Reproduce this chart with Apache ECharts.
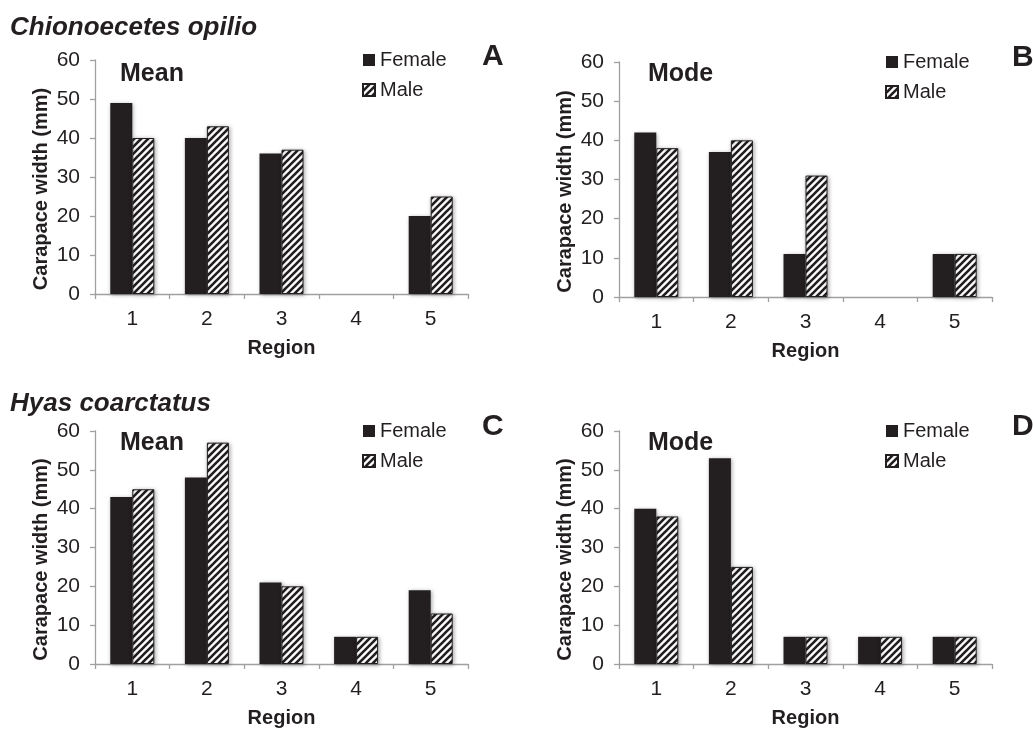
<!DOCTYPE html>
<html>
<head>
<meta charset="utf-8">
<script src="https://cdn.jsdelivr.net/npm/echarts@6/dist/echarts.min.js"></script>
<style>
html,body{margin:0;padding:0;background:#fff;}
#chart{width:1033px;height:729px;}
</style>
</head>
<body>
<div id="chart"></div>
<script>
// ---- data ----
const regions = ['1', '2', '3', '4', '5'];
const yMin = 0, yMax = 60, yStep = 10;
const seriesNames = ['Female', 'Male'];
const speciesTitles = ['Chionoecetes opilio', 'Hyas coarctatus'];
const panelLetters = ['A', 'B', 'C', 'D'];
const panelStats = ['Mean', 'Mode', 'Mean', 'Mode'];

const opilioMeanFemale = [49, 40, 36, null, 20];
const opilioMeanMale   = [40, 43, 37, null, 25];
const opilioModeFemale = [42, 37, 11, null, 11];
const opilioModeMale   = [38, 40, 31, null, 11];
const hyasMeanFemale   = [43, 48, 21, 7, 19];
const hyasMeanMale     = [45, 57, 20, 7, 13];
const hyasModeFemale   = [40, 53, 7, 7, 7];
const hyasModeMale     = [38, 25, 7, 7, 7];

const panelData = [
  [opilioMeanFemale, opilioMeanMale],
  [opilioModeFemale, opilioModeMale],
  [hyasMeanFemale, hyasMeanMale],
  [hyasModeFemale, hyasModeMale]
];

// ---- styling / layout ----
const FONT = "'Liberation Sans', Arial, Helvetica, sans-serif";
const INK = '#231f20';
const AXIS = '#a0a0a0';

const grids = [
  {left: 95, top: 60, width: 373, height: 234},
  {left: 619, top: 62, width: 373, height: 235},
  {left: 95, top: 431, width: 373, height: 235},
  {left: 619, top: 431, width: 373, height: 235}
];
const legendPos = [
  {left: 362, top: 50},
  {left: 885, top: 52},
  {left: 362, top: 421},
  {left: 885, top: 421}
];
const statPos = [
  {left: 120, top: 62},
  {left: 648, top: 62},
  {left: 120, top: 431},
  {left: 648, top: 431}
];
const letterPos = [
  {left: 482, top: 42},
  {left: 1012, top: 43},
  {left: 482, top: 412},
  {left: 1012, top: 412}
];

// hatch pattern
function makeHatch() {
  const s = 7;
  const c = document.createElement('canvas');
  c.width = s; c.height = s;
  const g = c.getContext('2d');
  g.fillStyle = '#ffffff';
  g.fillRect(0, 0, s, s);
  g.strokeStyle = INK;
  g.lineWidth = 2.6;
  g.beginPath();
  g.moveTo(-1, s + 1); g.lineTo(s + 1, -1);
  g.moveTo(-2, 2); g.lineTo(2, -2);
  g.moveTo(s - 2, s + 2); g.lineTo(s + 2, s - 2);
  g.stroke();
  return c;
}
const hatch = {image: makeHatch(), repeat: 'repeat'};

const chart = echarts.init(document.getElementById('chart'), null, {renderer: 'canvas'});

const option = {
  animation: false,
  backgroundColor: '#ffffff',
  textStyle: {fontFamily: FONT},
  grid: grids.map(g => Object.assign({containLabel: false}, g)),
  title: [],
  legend: [],
  xAxis: [],
  yAxis: [],
  series: []
};

// species titles
option.title.push({
  text: speciesTitles[0], left: 10, top: 15, padding: 0,
  textStyle: {fontFamily: FONT, fontSize: 26, fontWeight: 'bold', fontStyle: 'italic', color: INK}
});
option.title.push({
  text: speciesTitles[1], left: 10, top: 391, padding: 0,
  textStyle: {fontFamily: FONT, fontSize: 26, fontWeight: 'bold', fontStyle: 'italic', color: INK}
});

for (let i = 0; i < 4; i++) {
  option.title.push({
    text: panelStats[i], left: statPos[i].left, top: statPos[i].top, padding: 0,
    textStyle: {fontFamily: FONT, fontSize: 25, fontWeight: 'bold', color: INK}
  });
  option.title.push({
    text: panelLetters[i], left: letterPos[i].left, top: letterPos[i].top, padding: 0,
    textStyle: {fontFamily: FONT, fontSize: 30, fontWeight: 'bold', color: INK}
  });
  option.legend.push({
    data: seriesNames,
    orient: 'vertical',
    left: legendPos[i].left, top: legendPos[i].top,
    padding: 0,
    itemWidth: 12, itemHeight: 12, itemGap: 10,
    icon: 'rect',
    selectedMode: false,
    textStyle: {fontFamily: FONT, fontSize: 20, color: INK}
  });
  option.xAxis.push({
    type: 'category', gridIndex: i, data: regions,
    boundaryGap: true,
    name: 'Region', nameLocation: 'middle', nameGap: 44,
    nameTextStyle: {fontFamily: FONT, fontSize: 20, fontWeight: 'bold', color: INK},
    axisLine: {show: true, lineStyle: {color: AXIS, width: 1.3}},
    axisTick: {show: true, alignWithLabel: false, length: 5, lineStyle: {color: AXIS, width: 1.3}},
    axisLabel: {fontFamily: FONT, fontSize: 21, color: INK, margin: 15},
    splitLine: {show: false}
  });
  option.yAxis.push({
    type: 'value', gridIndex: i, min: yMin, max: yMax, interval: yStep,
    name: 'Carapace width (mm)', nameLocation: 'middle', nameGap: 44,
    nameTextStyle: {fontFamily: FONT, fontSize: 20, fontWeight: 'bold', color: INK, padding: [0, 24, 0, 0]},
    axisLine: {show: true, lineStyle: {color: AXIS, width: 1.3}},
    axisTick: {show: true, length: 5, lineStyle: {color: AXIS, width: 1.3}},
    axisLabel: {fontFamily: FONT, fontSize: 21, color: INK, margin: 15},
    splitLine: {show: false}
  });
  const [fem, mal] = panelData[i];
  option.series.push({
    type: 'bar', name: seriesNames[0], xAxisIndex: i, yAxisIndex: i,
    data: fem, barWidth: 22, barGap: '0%',
    itemStyle: {color: INK, borderColor: INK, borderWidth: 0,
      shadowColor: 'rgba(0,0,0,0.35)', shadowBlur: 4, shadowOffsetX: 1, shadowOffsetY: 1}
  });
  option.series.push({
    type: 'bar', name: seriesNames[1], xAxisIndex: i, yAxisIndex: i,
    data: mal, barWidth: 22, barGap: '0%',
    itemStyle: {color: hatch, borderColor: INK, borderWidth: 1,
      shadowColor: 'rgba(0,0,0,0.35)', shadowBlur: 4, shadowOffsetX: 1, shadowOffsetY: 1}
  });
}

chart.setOption(option);
</script>
</body>
</html>
